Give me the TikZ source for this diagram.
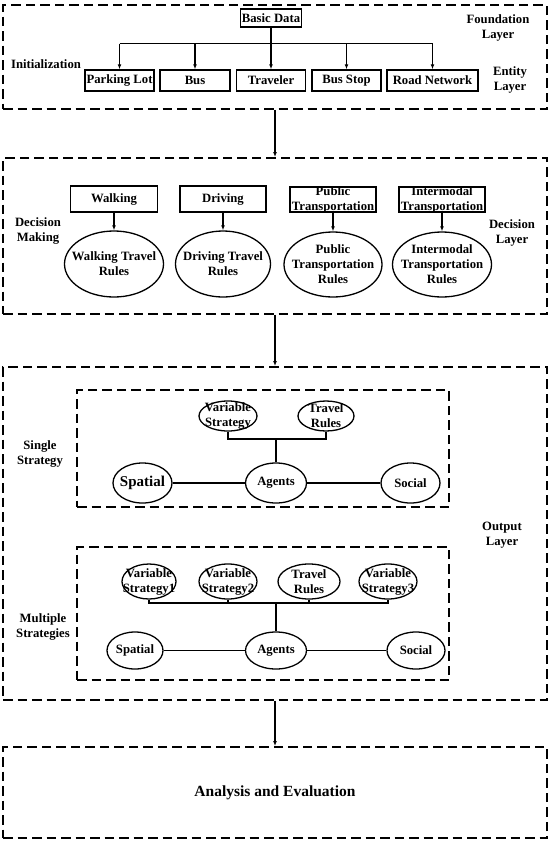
\documentclass[tikz,border=0pt]{standalone}
\usepackage{fontspec}
\setmainfont{Liberation Serif}
\usetikzlibrary{shapes.geometric,arrows.meta}
\newcommand{\fsz}{\fontsize{12.7}{15}\selectfont\bfseries}
\begin{document}
\begin{tikzpicture}[x=1pt,y=-1pt,
 layer/.style={draw, dash pattern=on 9.5pt off 5pt, line width=1.8pt, inner sep=0},
 sbox/.style 2 args={draw, line width=1.3pt, inner sep=0, minimum width=#1pt, minimum height=#2pt, font=\fsz, align=center},
 ell/.style 2 args={ellipse, draw, line width=1.3pt, inner sep=0, minimum width=#1pt, minimum height=#2pt},
 txt/.style={font=\fsz, align=center, inner sep=0},
 arr/.style={line width=1.2pt, -{Latex[length=5pt,width=3.8pt]}},
 con/.style={line width=1.3pt},
]
\useasboundingbox (0,0) rectangle (550,844);
\fill[white] (0,0) rectangle (550,844);

% ---------- layer frames
\node[layer, minimum width=544pt, minimum height=104pt] (L1) at (275,57) {};
\node[layer, minimum width=544pt, minimum height=156pt] (L2) at (275,236) {};
\node[layer, minimum width=544pt, minimum height=333pt] (L3) at (275,533.5) {};
\node[layer, minimum width=372pt, minimum height=117pt] (S1) at (263,448.5) {};
\node[layer, minimum width=372pt, minimum height=133pt] (S2) at (263,613.5) {};
\node[layer, minimum width=544pt, minimum height=91pt] (L4) at (275,792.5) {};

\draw[arr] (L1.south) -- (L2.north);
\draw[arr] (L2.south) -- (L3.north);
\draw[arr] (L3.south) -- (L4.north);

% ---------- foundation / entity layer
\node[sbox={61}{18}] (bd) at (271,18) {Basic Data};
\node[sbox={69}{21}] (pl) at (119.5,80.5) {Parking Lot};
\node[sbox={70}{21}] (bus) at (195,80.5) {Bus};
\node[sbox={69}{21}] (trav) at (271,80.5) {Traveler};
\node[sbox={69}{21}] (bs) at (346.5,80.5) {Bus Stop};
\node[sbox={91}{21}] (rn) at (432.5,80.5) {Road Network};
\coordinate (t0) at (271,43.7);
\draw[con] (pl.north |- t0) -- (rn.north |- t0);
\draw[arr] (bd.south) -- (trav.north);
\draw[arr] (pl.north |- t0) -- (pl.north);
\draw[arr] (bus.north |- t0) -- (bus.north);
\draw[arr] (bs.north |- t0) -- (bs.north);
\draw[arr] (rn.north |- t0) -- (rn.north);

\node[txt] (lInit) at (46,64) {Initialization};
\node[txt] (lFound) at (498,28) {Foundation\\Layer};
\node[txt] (lEnt) at (510,79.5) {Entity\\Layer};

% ---------- decision layer
\node[sbox={87}{26}] (wk) at (114,199) {Walking};
\node[sbox={86}{26}] (dr) at (223,199) {Driving};
\node[sbox={86}{25}, label={[txt]center:{Public\\Transportation}}] (pt) at (333,199.5) {};
\node[sbox={86}{25}, label={[txt]center:{Intermodal\\Transportation}}] (it) at (442,199.5) {};

\node[ell={99}{66}, label={[txt]center:{Walking Travel\\Rules}}] (wr) at (114,264) {};
\node[ell={95}{66}, label={[txt]center:{Driving Travel\\Rules}}] (drr) at (223,264) {};
\node[ell={98}{65}, label={[txt]center:{Public\\Transportation\\Rules}}] (ptr) at (333,264.5) {};
\node[ell={99}{65}, label={[txt]center:{Intermodal\\Transportation\\Rules}}] (itr) at (442,264.5) {};

\draw[arr] (wk.south) -- (wr.north);
\draw[arr] (dr.south) -- (drr.north);
\draw[arr] (pt.south) -- (ptr.north);
\draw[arr] (it.south) -- (itr.north);

\node[txt] (lDM) at (38,231) {Decision\\Making};
\node[txt] (lDL) at (512,233) {Decision\\Layer};

% ---------- single strategy
\node[ell={58}{30}, label={[txt]center:{Variable\\Strategy}}] (vs) at (228,416) {};
\node[ell={56}{30}, label={[txt]center:{Travel\\Rules}}] (tr) at (326,416) {};
\node[ell={61}{40}] (ag1) at (276,483) {};
\node[txt] at (ag1) {Agents};
\node[ell={59}{40}] (sp1) at (142.5,483) {};
\node[txt, font=\fontsize{15}{18}\selectfont\bfseries] at (sp1) {Spatial};
\node[ell={59}{40}] (so1) at (410.5,483) {};
\node[txt] at (so1) {Social};
\coordinate (j1) at (276,439);
\draw[con] (vs.south) -- (vs.south |- j1) -- (tr.south |- j1) -- (tr.south);
\draw[con] (j1) -- (ag1.north);
\draw[con] (sp1.east) -- (ag1.west);
\draw[con] (ag1.east) -- (so1.west);

\node[txt] (lSS) at (40,454) {Single\\Strategy};
\node[txt] (lOL) at (502,535) {Output\\Layer};

% ---------- multiple strategies
\node[ell={54}{35}, label={[txt]center:{Variable\\Strategy1}}] (v1) at (149,581.5) {};
\node[ell={58}{35}, label={[txt]center:{Variable\\Strategy2}}] (v2) at (228,581.5) {};
\node[ell={62}{35}, label={[txt]center:{Travel\\Rules}}] (tr2) at (309,581.5) {};
\node[ell={58}{35}, label={[txt]center:{Variable\\Strategy3}}] (v3) at (388,581.5) {};
\node[ell={61}{37}] (ag2) at (276,650.5) {};
\node[txt] at (ag2) {Agents};
\node[ell={56}{37}] (sp2) at (135,650.5) {};
\node[txt] at (sp2) {Spatial};
\node[ell={58}{37}] (so2) at (416,650.5) {};
\node[txt] at (so2) {Social};
\coordinate (j2) at (276,603);
\draw[con] (v1.south) -- (v1.south |- j2) -- (v3.south |- j2) -- (v3.south);
\draw[con] (v2.south) -- (v2.south |- j2);
\draw[con] (tr2.south) -- (tr2.south |- j2);
\draw[con] (j2) -- (ag2.north);
\draw[con] (sp2.east) -- (ag2.west);
\draw[con] (ag2.east) -- (so2.west);

\node[txt] (lMS) at (43,627) {Multiple\\Strategies};

% ---------- analysis
\node[txt, font=\fontsize{15.5}{18}\selectfont\bfseries] (ae) at (L4) {Analysis and Evaluation};
\end{tikzpicture}
\end{document}
